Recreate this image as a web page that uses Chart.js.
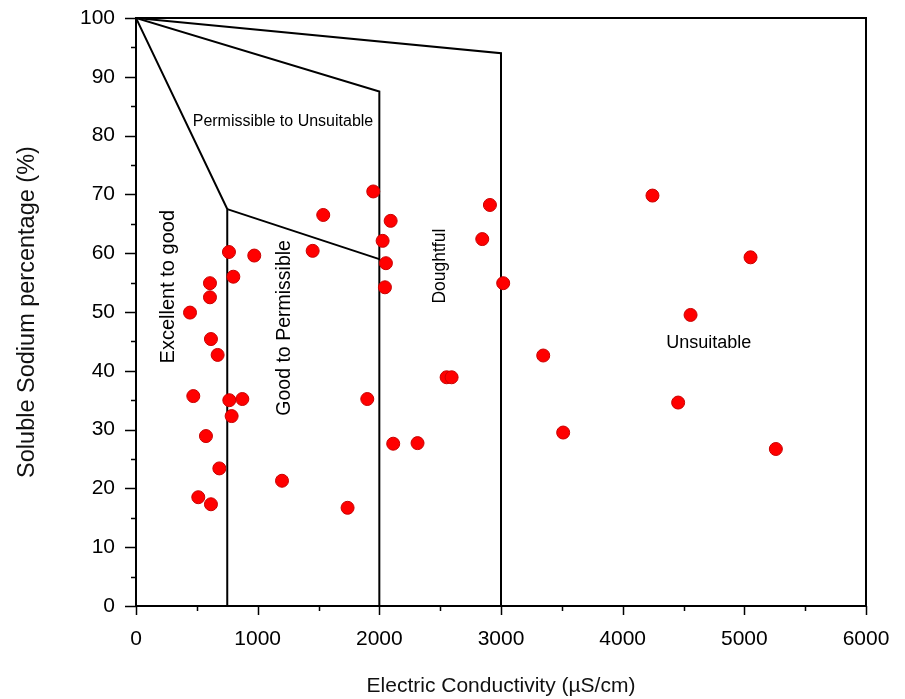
<!DOCTYPE html>
<html>
<head>
<meta charset="utf-8">
<script src="https://cdn.jsdelivr.net/npm/chart.js@4.4.1/dist/chart.umd.min.js"></script>
<style>
  html, body { margin: 0; padding: 0; background: #fff; }
  #wrap { width: 905px; height: 699px; position: relative; }
</style>
</head>
<body>
<div id="wrap"><canvas id="wilcox"></canvas></div>
<script>
// Sample data: EC (µS/cm) and soluble sodium (%)
const ecValues = [1950, 1539, 2093, 2027, 1452, 764, 972, 2054, 800, 608,
                  2046, 608, 444, 616, 671, 471, 767, 874, 1901, 786,
                  575, 2114, 2314, 685, 1200, 512, 616, 1739, 2909, 2846,
                  3018, 3347, 2553, 2594, 3511, 4245, 5051, 4558, 4456, 5259];
const naValues = [70.5, 66.5, 65.5, 62.1, 60.4, 60.2, 59.6, 58.3, 56.0, 54.9,
                  54.2, 52.5, 49.9, 45.4, 42.7, 35.7, 35.0, 35.2, 35.2, 32.3,
                  28.9, 27.6, 27.7, 23.4, 21.3, 18.5, 17.3, 16.7, 68.2, 62.4,
                  54.9, 42.6, 38.9, 38.9, 29.5, 69.8, 59.3, 49.5, 34.6, 26.7];

// Class boundaries (x = EC, y = Na%)
const excellentX = [0, 750, 750];
const excellentY = [100, 67.5, 0];
const goodX = [750, 2000];
const goodY = [67.5, 59];
const permissibleX = [0, 2000, 2000];
const permissibleY = [100, 87.5, 0];
const doubtfulX = [0, 3000, 3000];
const doubtfulY = [100, 94, 0];

// Zone labels: text, x, y, rotated?, font size
const zoneText = ['Permissible to Unsuitable', 'Excellent to good', 'Good to Permissible', 'Doughtful', 'Unsuitable'];
const zoneX = [1208, 263, 1224, 2498, 4708];
const zoneY = [82.3, 54.3, 47.3, 57.8, 44.7];
const zoneVertical = [false, true, true, true, false];
const zoneSize = [16, 20, 19.5, 17.5, 18];

const FONT = "'Liberation Sans', Arial, sans-serif";

function toPoints(xs, ys) {
    return xs.map((x, i) => ({ x: x, y: ys[i] }));
}

function boundary(xs, ys) {
    return {
        data: toPoints(xs, ys),
        showLine: true,
        borderColor: '#000',
        borderWidth: 2,
        pointRadius: 0,
        fill: false,
        tension: 0
    };
}

// frame, outward minor/major ticks and zone labels
const decorPlugin = {
    id: 'decor',
    afterDraw(chart) {
        const ctx = chart.ctx;
        const area = chart.chartArea;
        const xs = chart.scales.x;
        const ys = chart.scales.y;
        ctx.save();
        ctx.strokeStyle = '#000';
        ctx.lineWidth = 2;
        ctx.strokeRect(area.left, area.top, area.right - area.left, area.bottom - area.top);

        ctx.lineWidth = 1.5;
        ctx.beginPath();
        for (let v = 0; v <= 6000; v += 500) {
            const px = Math.round(xs.getPixelForValue(v)) + 0.5;
            const len = v % 1000 === 0 ? 9 : 5;
            ctx.moveTo(px, area.bottom);
            ctx.lineTo(px, area.bottom + len);
        }
        for (let v = 0; v <= 100; v += 5) {
            const py = Math.round(ys.getPixelForValue(v)) + 0.5;
            const len = v % 10 === 0 ? 11 : 5;
            ctx.moveTo(area.left, py);
            ctx.lineTo(area.left - len, py);
        }
        ctx.stroke();

        ctx.fillStyle = '#000';
        ctx.textAlign = 'center';
        ctx.textBaseline = 'middle';
        zoneText.forEach((t, i) => {
            const px = xs.getPixelForValue(zoneX[i]);
            const py = ys.getPixelForValue(zoneY[i]);
            ctx.save();
            ctx.font = zoneSize[i] + 'px ' + FONT;
            ctx.translate(px, py);
            if (zoneVertical[i]) ctx.rotate(-Math.PI / 2);
            ctx.fillText(t, 0, 0);
            ctx.restore();
        });
        ctx.restore();
    }
};

new Chart(document.getElementById('wilcox'), {
    type: 'scatter',
    data: {
        datasets: [
            {
                data: toPoints(ecValues, naValues),
                backgroundColor: '#ff0000',
                borderColor: '#c80000',
                borderWidth: 1,
                pointRadius: 6.5
            },
            boundary(excellentX, excellentY),
            boundary(goodX, goodY),
            boundary(permissibleX, permissibleY),
            boundary(doubtfulX, doubtfulY)
        ]
    },
    options: {
        responsive: true,
        maintainAspectRatio: false,
        animation: false,
        layout: { padding: { top: 18, right: 39, left: 0, bottom: 0 } },
        plugins: {
            legend: { display: false },
            tooltip: { enabled: false }
        },
        scales: {
            x: {
                type: 'linear',
                min: 0, max: 6000,
                afterFit: s => { s.height = 93; s.paddingLeft = 0; s.paddingRight = 0; },
                ticks: {
                    stepSize: 1000, color: '#000', padding: 12,
                    font: { family: FONT, size: 21 },
                    callback: v => String(v)
                },
                grid: { drawOnChartArea: false, color: 'rgba(0,0,0,0)', tickLength: 9 },
                border: { display: false },
                title: {
                    display: true,
                    text: 'Electric Conductivity (µS/cm)',
                    color: '#111',
                    font: { family: FONT, size: 21 },
                    padding: { top: 0, bottom: 0 }
                }
            },
            y: {
                min: 0, max: 100,
                afterFit: s => { s.width = 136; s.paddingTop = 0; s.paddingBottom = 0; },
                ticks: {
                    stepSize: 10, color: '#000', padding: 10,
                    font: { family: FONT, size: 21 },
                    callback: v => String(v)
                },
                grid: { drawOnChartArea: false, color: 'rgba(0,0,0,0)', tickLength: 11 },
                border: { display: false },
                title: {
                    display: true,
                    text: 'Soluble Sodium percentage (%)',
                    color: '#111',
                    font: { family: FONT, size: 23.5 },
                    padding: { top: 13, bottom: 0 }
                }
            }
        }
    },
    plugins: [decorPlugin]
});
</script>
</body>
</html>
